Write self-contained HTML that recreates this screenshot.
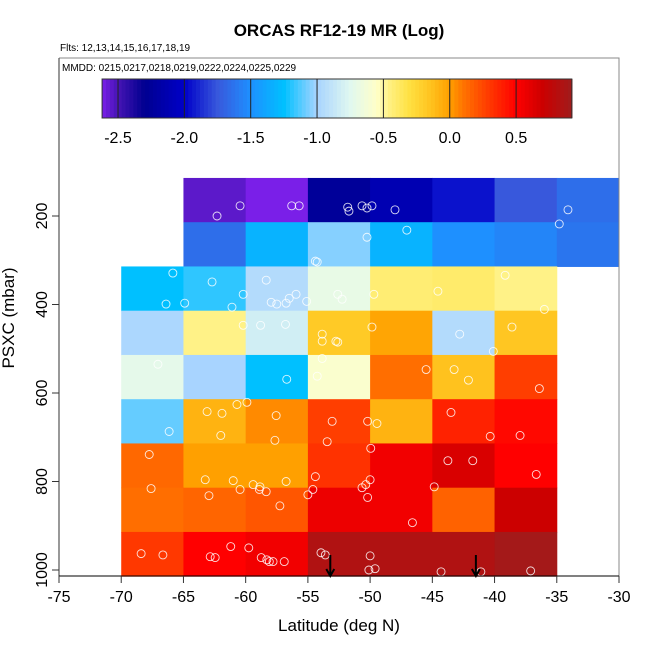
<!DOCTYPE html>
<html><head><meta charset="utf-8">
<style>
html,body{margin:0;padding:0;background:#fff;}
svg{display:block;font-family:"Liberation Sans",Arial,sans-serif;}
</style></head>
<body>
<svg id="chart" width="650" height="650" viewBox="0 0 650 650">
<text x="339" y="36" text-anchor="middle" font-size="17" font-weight="bold">ORCAS RF12-19 MR (Log)</text>
<text x="60" y="51" font-size="10">Flts: 12,13,14,15,16,17,18,19</text>
<text x="62" y="71" font-size="10">MMDD: 0215,0217,0218,0219,0222,0224,0225,0229</text>
<g id="cells"></g>
<g id="points"></g>
<g id="arrows"></g>
<g id="cbar"></g>
<g id="axes"></g>
<text x="339" y="631" text-anchor="middle" font-size="17">Latitude (deg N)</text>
<text transform="translate(14,318) rotate(-90)" text-anchor="middle" font-size="17">PSXC (mbar)</text>
</svg>
<script>
const latEdges = [-70,-65,-60,-55,-50,-45,-40,-35,-30];
const presEdges = [114,214,314,414,514,614,714,814,914,1014];
const cellValues = [
 [null,-2.55,-2.62,-2.25,-2.12,-1.95,-1.75,-1.65],
 [null,-1.65,-1.32,-1.05,-1.32,-1.5,-1.55,-1.62],
 [-1.25,-1.18,-0.95,-0.7,-0.42,-0.4,-0.46,null],
 [-0.98,-0.46,-0.82,-0.18,-0.02,-0.95,-0.16,null],
 [-0.72,-1.0,-1.25,-0.58,0.12,-0.14,0.28,null],
 [-1.1,-0.08,0.05,0.28,-0.08,0.38,0.47,null],
 [0.14,0.0,0.0,0.32,0.55,0.65,0.5,null],
 [0.12,0.15,0.2,0.57,0.55,0.16,0.7,null],
 [0.3,0.5,0.55,0.84,0.84,0.84,0.9,null]
];
const pointLat = [-62.3,-60.45,-56.3,-55.7,-51.8,-51.7,-50.65,-49.85,-50.25,-48.0,-34.1,-34.8,
 -50.25,-47.05,-54.4,-54.25,
 -65.85,-62.7,-58.35,-60.2,-64.9,-66.4,-61.1,-56.75,-55.95,-56.8,-56.5,-57.5,-57.95,-55.1,-52.6,-52.25,-49.7,-44.55,-39.15,-36.0,
 -60.2,-58.8,-49.85,-53.85,-53.85,-52.75,-52.6,-38.6,-42.8,-40.1,
 -67.05,-53.85,-54.25,-56.7,-45.5,-43.25,-42.1,-36.4,
 -63.1,-61.9,-60.7,-57.55,-59.9,-62.0,-66.15,-53.05,-50.2,-49.45,-43.5,-57.65,-53.45,-40.35,-37.95,
 -67.75,-49.95,-43.75,-41.75,-36.65,
 -67.6,-63.25,-61.0,-60.45,-58.9,-58.85,-56.75,-59.4,-58.35,-54.4,-54.6,-50.65,-50.35,-50.0,-44.85,-55.0,-50.2,-57.25,-62.95,-46.6,
 -68.4,-66.65,-62.85,-62.45,-61.2,-59.75,-58.75,-58.1,-58.3,-57.8,-56.9,-53.95,-53.6,-50.0,-50.1,-49.6,-44.3,-41.1,-37.1];
const pointPres = [200,177,177,177,180,189,177,177,182,186,186,218,
 248,232,302,304,
 329,349,345,377,397,399,406,397,377,445,386,399,395,393,377,388,377,370,334,411,
 447,447,451,467,483,483,485,451,467,506,
 535,522,562,569,547,547,571,590,
 642,646,626,651,621,696,687,664,664,669,644,707,710,698,696,
 739,725,753,753,784,
 816,796,798,818,818,812,800,807,823,789,818,814,807,796,812,830,836,855,832,893,
 963,966,970,972,947,950,972,981,977,981,981,961,966,968,1000,997,1004,1004,1002];
const arrowLat = [-53.2,-41.5];
const cbarTicks = [-2.5,-2.0,-1.5,-1.0,-0.5,0.0,0.5];
const xTicks = [-75,-70,-65,-60,-55,-50,-45,-40,-35,-30];
const yTicks = [200,400,600,800,1000];

const NS="http://www.w3.org/2000/svg";
function X(lat){return 59+(lat+75)*560/45;}
function Y(p){return 216+(p-200)*0.4425;}
function CB(v){return 118+(v+2.5)*132.7;}
const stops=[[-2.62,[122,31,232]],[-2.5,[70,20,180]],[-2.3,[0,0,144]],[-2.0,[0,0,200]],[-1.75,[56,88,220]],[-1.5,[30,144,255]],[-1.25,[0,192,255]],[-1.0,[168,212,255]],[-0.75,[224,248,240]],[-0.55,[255,255,200]],[-0.45,[255,240,128]],[-0.3,[255,224,64]],[-0.15,[255,196,32]],[0,[255,160,0]],[0.1,[255,116,0]],[0.3,[255,56,0]],[0.5,[255,0,0]],[0.7,[204,0,0]],[0.92,[160,28,28]]];
function color(v){
 if(v<=stops[0][0])return 'rgb('+stops[0][1]+')';
 for(let i=1;i<stops.length;i++){if(v<=stops[i][0]){const a=stops[i-1],b=stops[i];const t=(v-a[0])/(b[0]-a[0]);
  return 'rgb('+[0,1,2].map(k=>Math.round(a[1][k]+(b[1][k]-a[1][k])*t)).join(',')+')';}}
 return 'rgb('+stops[stops.length-1][1]+')';
}
function mk(tag,attrs,parent){const e=document.createElementNS(NS,tag);for(const k in attrs)e.setAttribute(k,attrs[k]);parent.appendChild(e);return e;}

const gc=document.getElementById('cells');
cellValues.forEach((row,r)=>row.forEach((v,c)=>{
 if(v===null)return;
 const x0=X(latEdges[c]),x1=X(latEdges[c+1]),y0=Y(presEdges[r]),y1=Y(presEdges[r+1]);
 const e=mk('rect',{x:x0,y:y0,width:x1-x0+0.5,height:y1-y0+0.5,fill:color(v)},gc);
 
 
}));
const gp=document.getElementById('points');
pointLat.forEach((la,i)=>{
 const e=mk('circle',{cx:X(la),cy:Y(pointPres[i]),r:4,fill:'none',stroke:'#fff','stroke-width':0.9,opacity:0.85},gp);
 
 
});
const ga=document.getElementById('arrows');
arrowLat.forEach(la=>{
 const x=X(la);
 const e=mk('path',{d:`M${x},555 L${x},576 M${x-4},569 L${x},576 L${x+4},569`,stroke:'#000','stroke-width':2,fill:'none'},ga);
 
 
});
const gb=document.getElementById('cbar');
const v0=-2.62,v1=0.92,n=120;
for(let i=0;i<n;i++){const va=v0+(v1-v0)*i/n,vb=v0+(v1-v0)*(i+1)/n;
 const e=mk('rect',{x:CB(va),y:79,width:CB(vb)-CB(va)+0.6,height:39,fill:color((va+vb)/2)},gb);
 
 }
mk('rect',{x:CB(v0),y:79,width:CB(v1)-CB(v0),height:39,fill:'none',stroke:'#333','stroke-width':1},gb);
cbarTicks.forEach(t=>{
 const l=mk('line',{x1:CB(t),x2:CB(t),y1:79,y2:118,stroke:'#222','stroke-width':1},gb);
 
 
 const tx=mk('text',{x:CB(t),y:143,'text-anchor':'middle','font-size':16},gb);
 tx.textContent=t.toFixed(1);
 
 
});
const gx=document.getElementById('axes');
mk('path',{d:'M59,58 L619,58 L619,576',stroke:'#888',fill:'none','stroke-width':1},gx);
mk('line',{x1:59,x2:59,y1:58,y2:576,stroke:'#555','stroke-width':1.2},gx);
mk('line',{x1:59,x2:619,y1:576,y2:576,stroke:'#000','stroke-width':1},gx);
xTicks.forEach(t=>{
 const x=X(t);
 mk('line',{x1:x,x2:x,y1:576,y2:583,stroke:'#333'},gx);
 const tx=mk('text',{x:x,y:602,'text-anchor':'middle','font-size':16},gx);
 tx.textContent=String(t);
 
 
});
yTicks.forEach(t=>{
 const y=Y(t);
 mk('line',{x1:52,x2:59,y1:y,y2:y,stroke:'#333'},gx);
 const tx=mk('text',{transform:`translate(47,${y}) rotate(-90)`,'text-anchor':'middle','font-size':16},gx);
 tx.textContent=String(t);
 
 
});
</script>
</body></html>
